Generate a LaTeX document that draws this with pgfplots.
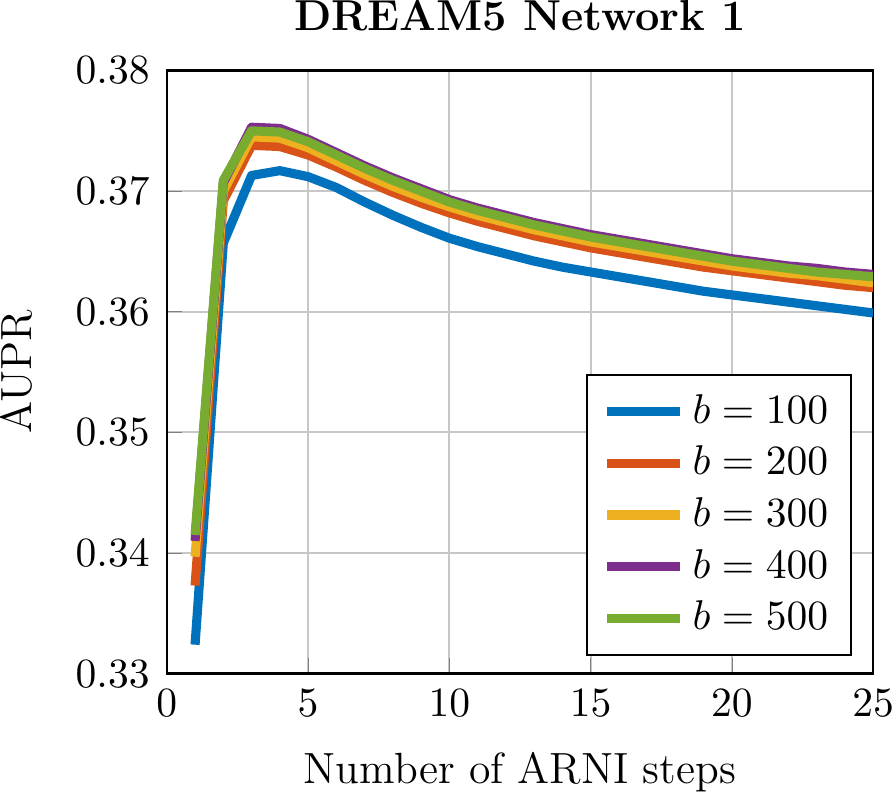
\documentclass[border=0pt]{standalone}
\usepackage{pgfplots}
\pgfplotsset{compat=1.18}
\definecolor{mblue}{RGB}{0,114,189}
\definecolor{mred}{RGB}{217,83,25}
\definecolor{myellow}{RGB}{237,177,32}
\definecolor{mpurple}{RGB}{126,47,142}
\definecolor{mgreen}{RGB}{119,172,48}
\pgfplotstableread{
x b100 b200 b300 b400 b500
1 0.3324 0.3373 0.3397 0.3410 0.3415
2 0.3657 0.3692 0.3700 0.3707 0.3709
3 0.3713 0.3738 0.3745 0.3753 0.3750
4 0.3717 0.3737 0.3744 0.3752 0.3749
5 0.3712 0.3730 0.3736 0.3743 0.3741
6 0.3703 0.3720 0.3725 0.3732 0.3730
7 0.3691 0.3709 0.3714 0.3721 0.3719
8 0.3680 0.3699 0.3704 0.3711 0.3709
9 0.3670 0.3690 0.3695 0.3702 0.3700
10 0.3661 0.3682 0.3687 0.3693 0.3691
11 0.3654 0.3675 0.3680 0.3686 0.3684
12 0.3648 0.3669 0.3674 0.3680 0.3678
13 0.3642 0.3663 0.3668 0.3674 0.3672
14 0.3637 0.3658 0.3663 0.3669 0.3667
15 0.3633 0.3653 0.3658 0.3664 0.3662
16 0.3629 0.3649 0.3654 0.3660 0.3658
17 0.3625 0.3645 0.3650 0.3656 0.3654
18 0.3621 0.3641 0.3646 0.3652 0.3650
19 0.3617 0.3637 0.3642 0.3648 0.3646
20 0.3614 0.3634 0.3638 0.3644 0.3642
21 0.3611 0.3631 0.3635 0.3641 0.3639
22 0.3608 0.3628 0.3632 0.3638 0.3636
23 0.3605 0.3625 0.3630 0.3636 0.3633
24 0.3602 0.3622 0.3627 0.3633 0.3631
25 0.3599 0.3620 0.3624 0.3631 0.3629
}\datatable
\begin{document}
\begin{tikzpicture}
\begin{axis}[
  scale only axis,
  width=186pt, height=158.8pt,
  xmin=0, xmax=25, ymin=0.33, ymax=0.38,
  xtick={0,5,10,15,20,25},
  ytick={0.33,0.34,0.35,0.36,0.37,0.38},
  ticklabel style={font=\fontsize{10.7}{12}\selectfont},
  yticklabel style={/pgf/number format/fixed, /pgf/number format/precision=2, /pgf/number format/fixed zerofill, xshift=-1pt},
  xticklabel style={inner xsep=0pt, yshift=-0.6pt},
  scaled y ticks=false,
  tick align=inside,
  tick pos=left,
  major tick length=4pt,
  grid=major,
  grid style={line width=0.5pt, draw=black!22},
  axis line style={line width=0.6pt},
  title={\textbf{DREAM5 Network 1}},
  title style={font=\fontsize{11.4}{13.5}\selectfont, at={(axis description cs:0.5,1)}, anchor=base, inner sep=0pt, yshift=4.6pt},
  xlabel={Number of ARNI steps},
  ylabel={AUPR},
  label style={font=\fontsize{11.5}{13.5}\selectfont, inner sep=0pt},
  xlabel style={at={(axis description cs:0.5,-0.182)}, anchor=base},
  ylabel style={at={(axis description cs:-0.192,0.5)}, anchor=base},
  legend style={at={(0.97,0.03)}, anchor=south east, draw=black, line width=0.5pt,
    font=\fontsize{11.4}{13.5}\selectfont, row sep=0.5pt, inner xsep=4pt, inner ysep=3pt},
  legend cell align=left,
  legend image code/.code={\draw[#1, line cap=butt] (0cm,0cm) -- (0.68cm,0cm);},
  every axis plot/.append style={line width=2.4pt, line join=round},
]
\addplot[mblue] table[x=x, y=b100] {\datatable};
\addlegendentry{$b=100$}
\addplot[mred] table[x=x, y=b200] {\datatable};
\addlegendentry{$b=200$}
\addplot[myellow] table[x=x, y=b300] {\datatable};
\addlegendentry{$b=300$}
\addplot[mpurple] table[x=x, y=b400] {\datatable};
\addlegendentry{$b=400$}
\addplot[mgreen] table[x=x, y=b500] {\datatable};
\addlegendentry{$b=500$}
\end{axis}
\end{tikzpicture}
\end{document}
